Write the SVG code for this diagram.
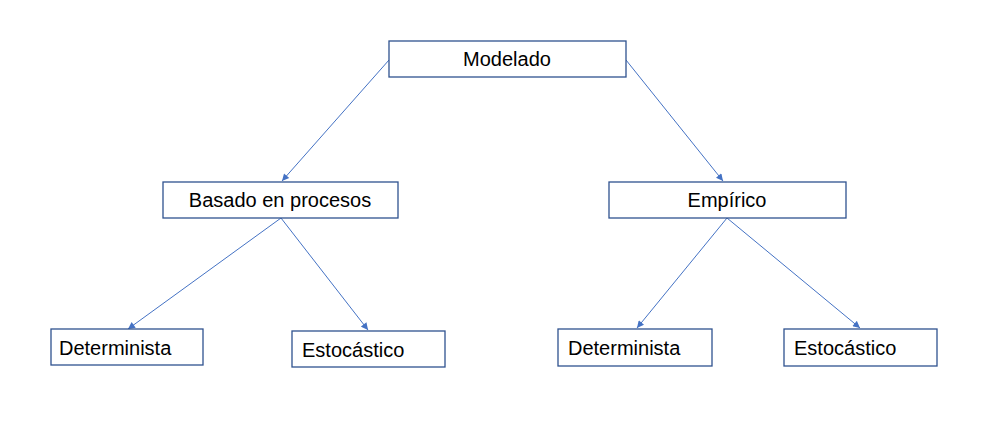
<svg xmlns="http://www.w3.org/2000/svg" width="988" height="423" viewBox="0 0 988 423">
<style>
.box{fill:#fff;stroke:#2F528F;stroke-width:1.3}
.t{font-family:"Liberation Sans",Arial,sans-serif;font-size:20px;fill:#000}
.c{text-anchor:middle}
.ln{stroke:#4472C4;stroke-width:1;fill:none;marker-end:url(#ah)}
</style>
<defs>
<marker id="ah" viewBox="0 0 10 10" refX="10" refY="5" markerWidth="9" markerHeight="7" markerUnits="userSpaceOnUse" orient="auto">
<path d="M0,0 L10,5 L0,10 z" fill="#4472C4"/>
</marker>
</defs>
<rect width="988" height="423" fill="#fff"/>
<g id="connectors">
<line class="ln" x1="389" y1="60" x2="282" y2="181"/>
<line class="ln" x1="626" y1="60" x2="723" y2="181"/>
<line class="ln" x1="281" y1="218" x2="128" y2="329"/>
<line class="ln" x1="281" y1="218" x2="368" y2="330"/>
<line class="ln" x1="727" y1="218" x2="637" y2="328"/>
<line class="ln" x1="727" y1="218" x2="860" y2="328"/>
</g>
<g id="modelado">
<rect class="box" x="389" y="41" width="237" height="36"/>
<text class="t c" x="507" y="66">Modelado</text>
</g>
<g id="basado">
<rect class="box" x="163" y="182" width="235" height="36"/>
<text class="t c" x="280" y="207">Basado en procesos</text>
</g>
<g id="empirico">
<rect class="box" x="609" y="182" width="237" height="36"/>
<text class="t c" x="727" y="207">Empírico</text>
</g>
<g id="det1">
<rect class="box" x="51" y="329" width="152" height="36"/>
<text class="t" x="59" y="355">Determinista</text>
</g>
<g id="est1">
<rect class="box" x="292" y="331" width="153" height="36"/>
<text class="t" x="302" y="357">Estocástico</text>
</g>
<g id="det2">
<rect class="box" x="558" y="329" width="154" height="37"/>
<text class="t" x="568" y="355">Determinista</text>
</g>
<g id="est2">
<rect class="box" x="784" y="329" width="153" height="37"/>
<text class="t" x="794" y="355">Estocástico</text>
</g>
</svg>
